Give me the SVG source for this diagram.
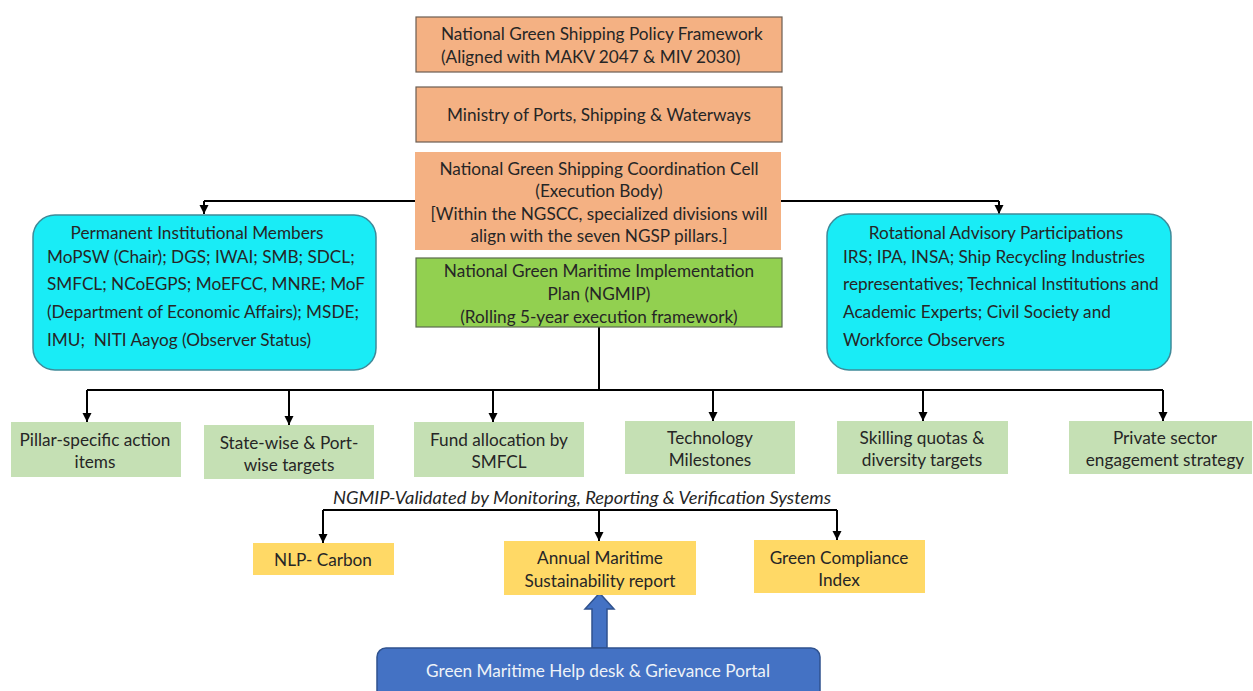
<svg xmlns="http://www.w3.org/2000/svg" width="1253" height="691" viewBox="0 0 1253 691">
<style>
text{font-family:Lato,"Liberation Sans",sans-serif;font-size:17.2px;fill:#262626;dominant-baseline:central}
.c{text-anchor:middle}
.or{fill:#F4B183;stroke:#6b5d52;stroke-width:1.2}
.orn{fill:#F4B183}
.gr{fill:#92D050;stroke:#5b6b4d;stroke-width:1.2}
.cy{fill:#19ECF6;stroke:#3f8a99;stroke-width:1.5}
.lg{fill:#C5E0B4}
.ye{fill:#FFD966}
.bl{fill:#4472C4;stroke:#2F528F;stroke-width:1.5}
.ln{fill:none;stroke:#000;stroke-width:2}
.arr{marker-end:url(#ah)}
</style>
<defs>
<marker id="ah" markerUnits="userSpaceOnUse" markerWidth="10" markerHeight="10" refX="9" refY="5" orient="auto">
<path d="M0,0.5 L9,5 L0,9.5 z" fill="#000"/>
</marker>
</defs>
<g id="connectors">
<path class="ln" d="M204,201 H999"/>
<path class="ln arr" d="M204,201 V214"/>
<path class="ln arr" d="M999,201 V214"/>
<path class="ln" d="M599,327 V390 M87,390 H1163"/>
<path class="ln arr" d="M87,390 V422"/>
<path class="ln arr" d="M289,390 V425"/>
<path class="ln arr" d="M493,390 V422"/>
<path class="ln arr" d="M713,390 V421"/>
<path class="ln arr" d="M923,390 V421"/>
<path class="ln arr" d="M1163,390 V421"/>
<path class="ln" d="M323,510 H837"/>
<path class="ln arr" d="M323,510 V543"/>
<path class="ln arr" d="M599,510 V541"/>
<path class="ln arr" d="M837,510 V540"/>
<polygon class="bl" points="599.5,593 614,609 607,609 607,648 592,648 592,609 585,609"/>
</g>
<g id="policy">
<rect class="or" x="416" y="17" width="366" height="55"/>
<text x="441" y="33">National Green Shipping Policy Framework</text>
<text x="441" y="56">(Aligned with MAKV 2047 &amp; MIV 2030)</text>
</g>
<g id="ministry">
<rect class="or" x="416" y="87" width="366" height="55"/>
<text class="c" x="599" y="114">Ministry of Ports, Shipping &amp; Waterways</text>
</g>
<g id="ngscc">
<rect class="orn" x="415" y="152" width="366" height="98"/>
<text class="c" x="599" y="168">National Green Shipping Coordination Cell</text>
<text class="c" x="599" y="190">(Execution Body)</text>
<text class="c" x="599" y="213">[Within the NGSCC, specialized divisions will</text>
<text class="c" x="599" y="235">align with the seven NGSP pillars.]</text>
</g>
<g id="ngmip">
<rect class="gr" x="416" y="258" width="366" height="69"/>
<text class="c" x="599" y="270">National Green Maritime Implementation</text>
<text class="c" x="599" y="293">Plan (NGMIP)</text>
<text class="c" x="599" y="316">(Rolling 5-year execution framework)</text>
</g>
<g id="permanent">
<rect class="cy" x="33" y="215" width="343" height="155" rx="22"/>
<text class="c" x="197" y="232">Permanent Institutional Members</text>
<text x="47" y="256">MoPSW (Chair); DGS; IWAI; SMB; SDCL;</text>
<text x="47" y="283">SMFCL; NCoEGPS; MoEFCC, MNRE; MoF</text>
<text x="47" y="311">(Department of Economic Affairs); MSDE;</text>
<text x="47" y="339" style="white-space:pre">IMU;  NITI Aayog (Observer Status)</text>
</g>
<g id="rotational">
<rect class="cy" x="827" y="214" width="344" height="156" rx="22"/>
<text class="c" x="996" y="232">Rotational Advisory Participations</text>
<text x="843" y="256">IRS; IPA, INSA; Ship Recycling Industries</text>
<text x="843" y="283">representatives; Technical Institutions and</text>
<text x="843" y="311">Academic Experts; Civil Society and</text>
<text x="843" y="339">Workforce Observers</text>
</g>
<g id="pillar">
<rect class="lg" x="11" y="422" width="170" height="55"/>
<text class="c" x="95" y="439">Pillar-specific action</text>
<text class="c" x="95" y="461">items</text>
</g>
<g id="statewise">
<rect class="lg" x="204" y="425" width="170" height="54"/>
<text class="c" x="289" y="442">State-wise &amp; Port-</text>
<text class="c" x="289" y="464">wise targets</text>
</g>
<g id="fund">
<rect class="lg" x="414" y="422" width="170" height="55"/>
<text class="c" x="499" y="439">Fund allocation by</text>
<text class="c" x="499" y="461">SMFCL</text>
</g>
<g id="technology">
<rect class="lg" x="625" y="421" width="170" height="53"/>
<text class="c" x="710" y="437">Technology</text>
<text class="c" x="710" y="459">Milestones</text>
</g>
<g id="skilling">
<rect class="lg" x="837" y="421" width="171" height="53"/>
<text class="c" x="922" y="437">Skilling quotas &amp;</text>
<text class="c" x="922" y="459">diversity targets</text>
</g>
<g id="private">
<rect class="lg" x="1069" y="421" width="183" height="53"/>
<text class="c" x="1165" y="437">Private sector</text>
<text class="c" x="1165" y="459">engagement strategy</text>
</g>
<g id="mrv-label">
<text class="c" x="582" y="497" style="font-style:italic;font-size:18px" textLength="498" lengthAdjust="spacingAndGlyphs">NGMIP-Validated by Monitoring, Reporting &amp; Verification Systems</text>
</g>
<g id="nlp">
<rect class="ye" x="253" y="543" width="141" height="32"/>
<text class="c" x="323" y="559">NLP- Carbon</text>
</g>
<g id="annual">
<rect class="ye" x="504" y="541" width="192" height="54"/>
<text class="c" x="600" y="557">Annual Maritime</text>
<text class="c" x="600" y="580">Sustainability report</text>
</g>
<g id="gci">
<rect class="ye" x="754" y="540" width="171" height="53"/>
<text class="c" x="839" y="557">Green Compliance</text>
<text class="c" x="839" y="579">Index</text>
</g>
<g id="helpdesk">
<rect class="bl" x="377" y="648" width="443" height="60" rx="9"/>
<text class="c" x="598" y="670" style="fill:#EEF2F8">Green Maritime Help desk &amp; Grievance Portal</text>
</g>
</svg>
